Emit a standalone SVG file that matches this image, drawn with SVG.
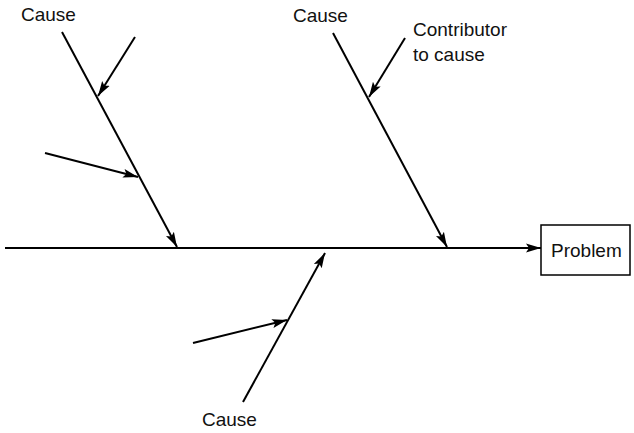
<svg xmlns="http://www.w3.org/2000/svg" width="634" height="433" viewBox="0 0 634 433">
<style>
.ln{stroke:#000;stroke-width:2;fill:none;marker-end:url(#ah)}
.t{font-family:"Liberation Sans",Arial,sans-serif;font-size:19px;fill:#111}
</style>
<defs>
<marker id="ah" markerUnits="userSpaceOnUse" markerWidth="16" markerHeight="12" viewBox="0 0 16 12" refX="15" refY="6" orient="auto">
<path d="M0,1.5 L15,6 L0,10.5 L3,6 Z" fill="#000"/>
</marker>
</defs>
<rect width="634" height="433" fill="#fff"/>
<g id="connectors">
<line class="ln" x1="5" y1="248" x2="541" y2="248"/>
<line class="ln" x1="62" y1="32" x2="177" y2="247"/>
<line class="ln" x1="135" y1="37" x2="98" y2="96"/>
<line class="ln" x1="45" y1="153" x2="138" y2="177"/>
<line class="ln" x1="333" y1="33" x2="447" y2="247"/>
<line class="ln" x1="405" y1="38" x2="369" y2="97"/>
<line class="ln" x1="243" y1="402" x2="325" y2="253"/>
<line class="ln" x1="193" y1="343" x2="287" y2="320"/>
</g>
<g id="problem">
<rect x="541" y="225" width="89" height="50" fill="#fff" stroke="#000" stroke-width="1.5"/>
<text class="t" x="551" y="257">Problem</text>
</g>
<g id="cause-top-left"><text class="t" x="21" y="21">Cause</text></g>
<g id="cause-top-right"><text class="t" x="293" y="22">Cause</text></g>
<g id="contributor-label"><text class="t" x="413" y="36">Contributor</text><text class="t" x="413" y="61">to cause</text></g>
<g id="cause-bottom"><text class="t" x="202" y="426">Cause</text></g>
</svg>
